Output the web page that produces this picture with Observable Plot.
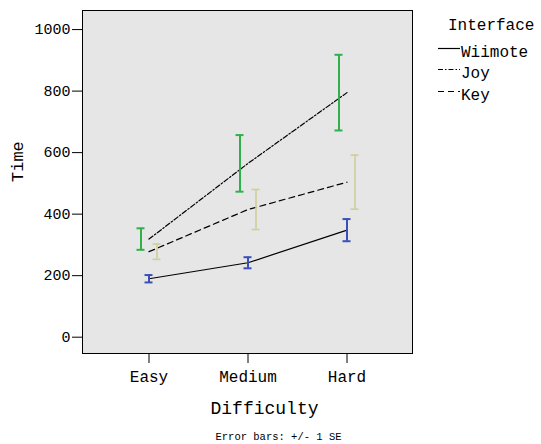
<!DOCTYPE html>
<html>
<head>
<meta charset="utf-8">
<script src="https://cdn.jsdelivr.net/npm/d3@7"></script>
<script src="https://cdn.jsdelivr.net/npm/@observablehq/plot@0.6"></script>
<style>
  html, body { margin: 0; padding: 0; background: #fff; }
  #wrap { position: relative; width: 541px; height: 444px; font-family: "Liberation Mono", "Courier New", monospace; }
  #legend { position: absolute; left: 0; top: 0; }
</style>
</head>
<body>
<div id="wrap"></div>
<script>
// ---- data ----
const difficulty = ["Easy", "Medium", "Hard"];
const interfaces = ["Wiimote", "Joy", "Key"];
const wiimoteMean = [190, 242, 348];
const wiimoteSE   = [12, 18, 36];
const joyMean     = [319, 565, 795];
const joySE       = [35, 92, 123];
const keyMean     = [278, 415, 504];
const keySE       = [25, 65, 88];
const yTicks = [0, 200, 400, 600, 800, 1000];
const xTitle = "Difficulty";
const yTitle = "Time";
const legendTitle = "Interface";
const caption = "Error bars: +/- 1 SE";

// ---- styles ----
const FONT = '"Liberation Mono", "Courier New", monospace';
const style = {
  Wiimote: {color: "#3a50b8", dash: null, dx: 0, width: 2},
  Joy:     {color: "#30b04a", dash: "5,2,1.5,2", dx: -8, width: 2},
  Key:     {color: "#cfcf98", dash: "6,4", dx: 8, width: 1.6}
};

const seriesData = {
  Wiimote: {mean: wiimoteMean, se: wiimoteSE},
  Joy: {mean: joyMean, se: joySE},
  Key: {mean: keyMean, se: keySE}
};

const tables = {};
for (const s of interfaces) {
  tables[s] = difficulty.map((d, i) => ({
    difficulty: d,
    interface: s,
    mean: seriesData[s].mean[i],
    lo: seriesData[s].mean[i] - seriesData[s].se[i],
    hi: seriesData[s].mean[i] + seriesData[s].se[i]
  }));
}

const marks = [Plot.frame({fill: "#e6e6e6", stroke: "none"})];

// lines (not dodged)
for (const s of interfaces) {
  marks.push(Plot.line(tables[s], {
    x: "difficulty", y: "mean", stroke: "#000", strokeWidth: 1.2,
    strokeDasharray: style[s].dash || undefined
  }));
}
// error bars (dodged)
for (const s of interfaces) {
  const st = style[s];
  marks.push(Plot.ruleX(tables[s], {x: "difficulty", y1: "lo", y2: "hi", stroke: st.color, strokeWidth: st.width, dx: st.dx}));
  marks.push(Plot.tickY(tables[s], {x: "difficulty", y: "lo", stroke: st.color, strokeWidth: st.width, dx: st.dx, insetLeft: 45.5, insetRight: 45.5}));
  marks.push(Plot.tickY(tables[s], {x: "difficulty", y: "hi", stroke: st.color, strokeWidth: st.width, dx: st.dx, insetLeft: 45.5, insetRight: 45.5}));
}

marks.push(
  Plot.axisY({ticks: yTicks, tickFormat: d => String(d), tickSize: 10, tickPadding: 2, fontSize: 15, label: null, stroke: "#000", color: "#000"}),
  Plot.axisX({tickSize: 10, tickPadding: 7, fontSize: 16, label: null, stroke: "#000", color: "#000"}),
  Plot.text([xTitle], {frameAnchor: "bottom", text: d => d, dx: 17, dy: 54.5, fontSize: 18, lineAnchor: "middle", fill: "#000"}),
  Plot.text([caption], {frameAnchor: "bottom", text: d => d, dx: 31, dy: 83.5, fontSize: 10.5, lineAnchor: "middle", fill: "#000"}),
  Plot.text([yTitle], {frameAnchor: "left", text: d => d, dx: -65, rotate: -90, fontSize: 17, lineAnchor: "middle", fill: "#000"}),
  Plot.frame({stroke: "#000", strokeWidth: 1})
);

const chart = Plot.plot({
  width: 541,
  height: 444,
  marginLeft: 82,
  marginRight: 129,
  marginTop: 10,
  marginBottom: 91,
  style: {fontFamily: FONT, background: "#fff", color: "#000"},
  x: {type: "band", domain: difficulty, paddingInner: 0, paddingOuter: 1 / 6, align: 0.5},
  y: {domain: [-53, 1062]},
  marks
});

const wrap = document.getElementById("wrap");
wrap.appendChild(chart);

// ---- legend (SVG overlay to the right of the chart) ----
const ns = "http://www.w3.org/2000/svg";
const leg = document.createElementNS(ns, "svg");
leg.setAttribute("id", "legend");
leg.setAttribute("width", 541);
leg.setAttribute("height", 120);
leg.style.position = "absolute";
leg.style.left = "0px";
leg.style.top = "0px";
leg.style.fontFamily = FONT;
const title = document.createElementNS(ns, "text");
title.setAttribute("x", 448);
title.setAttribute("y", 30);
title.setAttribute("font-size", 16);
title.textContent = legendTitle;
leg.appendChild(title);
const baselines = [57, 78, 100];
interfaces.forEach((s, i) => {
  const yb = baselines[i];
  const ln = document.createElementNS(ns, "line");
  ln.setAttribute("x1", 438);
  ln.setAttribute("x2", 460);
  ln.setAttribute("y1", yb - 8.5);
  ln.setAttribute("y2", yb - 8.5);
  ln.setAttribute("stroke", "#000");
  ln.setAttribute("stroke-width", 1.2);
  if (style[s].dash) ln.setAttribute("stroke-dasharray", style[s].dash);
  leg.appendChild(ln);
  const t = document.createElementNS(ns, "text");
  t.setAttribute("x", 461);
  t.setAttribute("y", yb);
  t.setAttribute("font-size", 16);
  t.textContent = s;
  leg.appendChild(t);
});
wrap.appendChild(leg);
</script>
</body>
</html>
